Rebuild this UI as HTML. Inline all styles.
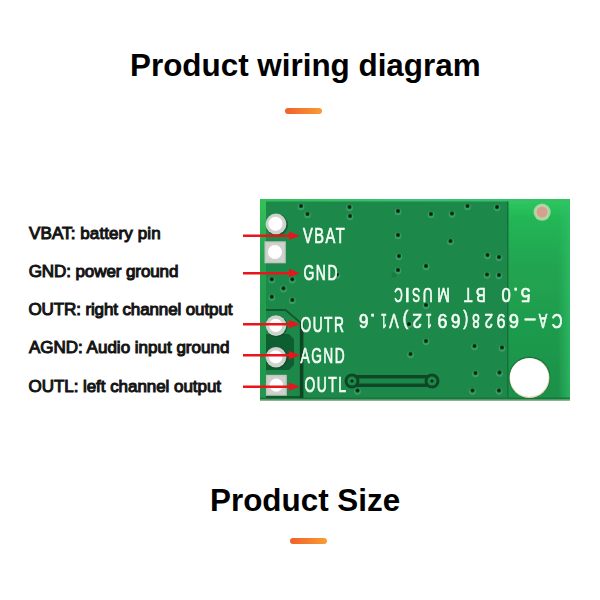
<!DOCTYPE html>
<html>
<head>
<meta charset="utf-8">
<style>
html,body{margin:0;padding:0;background:#fff;}
body{width:600px;height:600px;position:relative;overflow:hidden;font-family:"Liberation Sans",sans-serif;}
.t{position:absolute;white-space:nowrap;line-height:1;}
.title{font-size:31.4px;font-weight:bold;color:#000;}
.lab{font-size:17px;color:#141414;-webkit-text-stroke:1.05px #141414;}
.bar{position:absolute;height:6px;border-radius:3px;background:linear-gradient(90deg,#f1602a,#f89c36);}
svg{position:absolute;left:0;top:0;}
</style>
</head>
<body>
<div class="t title" style="left:130px;top:50px;">Product wiring diagram</div>
<div class="bar" style="left:285px;top:108px;width:37px;"></div>

<div class="t lab" style="left:29px;top:224.6px;letter-spacing:0.1px;">VBAT: battery pin</div>
<div class="t lab" style="left:28.7px;top:262.5px;letter-spacing:-0.09px;">GND: power ground</div>
<div class="t lab" style="left:28.5px;top:301.1px;letter-spacing:-0.12px;">OUTR: right channel output</div>
<div class="t lab" style="left:29px;top:339.4px;">AGND: Audio input ground</div>
<div class="t lab" style="left:28.5px;top:377.6px;letter-spacing:-0.05px;">OUTL: left channel output</div>

<svg width="600" height="600" viewBox="0 0 600 600">
  <defs>
    <linearGradient id="bright" x1="0" y1="0" x2="0" y2="1">
      <stop offset="0" stop-color="#48cc84"/>
      <stop offset="0.02" stop-color="#2cc45e"/>
      <stop offset="0.1" stop-color="#22b655"/>
      <stop offset="0.3" stop-color="#21a651"/>
      <stop offset="0.6" stop-color="#1f9c4d"/>
      <stop offset="1" stop-color="#1c9049"/>
    </linearGradient>
    <linearGradient id="lband" x1="0" y1="0" x2="0" y2="1">
      <stop offset="0" stop-color="#34c058"/>
      <stop offset="0.3" stop-color="#25a050"/>
      <stop offset="1" stop-color="#22964d"/>
    </linearGradient>
    <linearGradient id="tband" x1="0" y1="0" x2="1" y2="0">
      <stop offset="0" stop-color="#30c057"/>
      <stop offset="0.5" stop-color="#3cbf76"/>
      <stop offset="1" stop-color="#30c060"/>
    </linearGradient>
    <linearGradient id="redge" x1="0" y1="0" x2="1" y2="0">
      <stop offset="0" stop-color="#30c068" stop-opacity="0"/>
      <stop offset="1" stop-color="#30c068" stop-opacity="0.7"/>
    </linearGradient>
    <filter id="soft" x="-2%" y="-2%" width="104%" height="104%"><feGaussianBlur stdDeviation="0.45"/></filter>
  </defs>
  <g filter="url(#soft)">
  <!-- board -->
  <rect x="260" y="199" width="310" height="202" fill="url(#bright)"/>
  <rect x="558" y="199" width="12" height="202" fill="url(#redge)"/>
  <rect x="260" y="199" width="310" height="3" fill="url(#tband)"/>
  <rect x="260" y="202" width="6" height="199" fill="url(#lband)"/>
  <rect x="266" y="201.5" width="242" height="197" fill="#1f884a"/>
  <rect x="260" y="397.5" width="310" height="2" fill="#17703b" opacity="0.8"/>
  <rect x="260" y="399.5" width="310" height="1.5" fill="#a8bca0" opacity="0.8"/>
  <rect x="507" y="201.5" width="1.5" height="197" fill="#17703b"/>
  <!-- pad copper region -->
  <path d="M266,310 L285.5,310 L301.5,323.5 L301.5,397 L266,397" fill="#1f884a" stroke="#0f5a2c" stroke-width="1.8"/>
  <path d="M266,334 L289,334 L294,339 L294,365 L289,370 L266,370 Z" fill="#105e30"/>
  <rect x="299.8" y="323" width="3.6" height="75" fill="#0b4624"/>
  <!-- copper dot top right -->
  <circle cx="542.1" cy="212.1" r="8.6" fill="#9ad8a0"/>
  <circle cx="542.1" cy="212.1" r="7" fill="#c8d0a8"/>
  <circle cx="542.1" cy="212.1" r="5.6" fill="#d2a28e"/>
  <!-- hole -->
  <circle cx="529.5" cy="377.5" r="21" fill="#156e38" opacity="0.7"/>
  <circle cx="529.5" cy="378" r="20" fill="#e2d4ae"/>
  <circle cx="529.3" cy="377.5" r="19.3" fill="#ffffff"/>
  <!-- trace -->
  <path d="M352,381 L432,381" stroke="#0d4726" stroke-width="12" stroke-linecap="round" fill="none"/>
  <path d="M352,381 L432,381" stroke="#1f884a" stroke-width="5" stroke-linecap="round" fill="none"/>
  <circle cx="352" cy="381" r="7.5" fill="#0d4726"/>
  <circle cx="432" cy="381" r="7.5" fill="#0d4726"/>
  <circle cx="352" cy="381" r="4.5" fill="#1f884a"/>
  <circle cx="432" cy="381" r="4.5" fill="#1f884a"/>
  <circle cx="352" cy="381" r="1.6" fill="#0a2a14"/>
  <circle cx="432" cy="381" r="1.6" fill="#0a2a14"/>
  <!-- vias -->
  <g>
    <circle cx="301" cy="206.8" r="3.4" fill="#4fb27a" opacity="0.55"/><circle cx="301" cy="206" r="2.2" fill="#12502a"/><circle cx="301" cy="206" r="1.3" fill="#071f10"/>
    <circle cx="307.5" cy="214.8" r="3.4" fill="#4fb27a" opacity="0.55"/><circle cx="307.5" cy="214" r="2.2" fill="#12502a"/><circle cx="307.5" cy="214" r="1.3" fill="#071f10"/>
    <circle cx="349.5" cy="207.8" r="3.4" fill="#4fb27a" opacity="0.55"/><circle cx="349.5" cy="207" r="2.2" fill="#12502a"/><circle cx="349.5" cy="207" r="1.3" fill="#071f10"/>
    <circle cx="350" cy="216.8" r="3.4" fill="#4fb27a" opacity="0.55"/><circle cx="350" cy="216" r="2.2" fill="#12502a"/><circle cx="350" cy="216" r="1.3" fill="#071f10"/>
    <circle cx="398" cy="211.8" r="3.4" fill="#4fb27a" opacity="0.55"/><circle cx="398" cy="211" r="2.2" fill="#12502a"/><circle cx="398" cy="211" r="1.3" fill="#071f10"/>
    <circle cx="398" cy="235.8" r="3.4" fill="#4fb27a" opacity="0.55"/><circle cx="398" cy="235" r="2.2" fill="#12502a"/><circle cx="398" cy="235" r="1.3" fill="#071f10"/>
    <circle cx="399" cy="256.8" r="3.4" fill="#4fb27a" opacity="0.55"/><circle cx="399" cy="256" r="2.2" fill="#12502a"/><circle cx="399" cy="256" r="1.3" fill="#071f10"/>
    <circle cx="398" cy="270.8" r="3.4" fill="#4fb27a" opacity="0.55"/><circle cx="398" cy="270" r="2.2" fill="#12502a"/><circle cx="398" cy="270" r="1.3" fill="#071f10"/>
    <circle cx="337" cy="275.3" r="3.4" fill="#4fb27a" opacity="0.55"/><circle cx="337" cy="274.5" r="2.2" fill="#12502a"/><circle cx="337" cy="274.5" r="1.3" fill="#071f10"/>
    <circle cx="271.8" cy="280.1" r="3.4" fill="#4fb27a" opacity="0.55"/><circle cx="271.8" cy="279.3" r="2.2" fill="#12502a"/><circle cx="271.8" cy="279.3" r="1.3" fill="#071f10"/>
    <circle cx="292.3" cy="280.1" r="3.4" fill="#4fb27a" opacity="0.55"/><circle cx="292.3" cy="279.3" r="2.2" fill="#12502a"/><circle cx="292.3" cy="279.3" r="1.3" fill="#071f10"/>
    <circle cx="283.5" cy="289.0" r="3.4" fill="#4fb27a" opacity="0.55"/><circle cx="283.5" cy="288.2" r="2.2" fill="#12502a"/><circle cx="283.5" cy="288.2" r="1.3" fill="#071f10"/>
    <circle cx="271.8" cy="297.6" r="3.4" fill="#4fb27a" opacity="0.55"/><circle cx="271.8" cy="296.8" r="2.2" fill="#12502a"/><circle cx="271.8" cy="296.8" r="1.3" fill="#071f10"/>
    <circle cx="292.3" cy="300.7" r="3.4" fill="#4fb27a" opacity="0.55"/><circle cx="292.3" cy="299.9" r="2.2" fill="#12502a"/><circle cx="292.3" cy="299.9" r="1.3" fill="#071f10"/>
    <circle cx="431" cy="214.8" r="3.4" fill="#4fb27a" opacity="0.55"/><circle cx="431" cy="214" r="2.2" fill="#12502a"/><circle cx="431" cy="214" r="1.3" fill="#071f10"/>
    <circle cx="452" cy="214.3" r="3.4" fill="#4fb27a" opacity="0.55"/><circle cx="452" cy="213.5" r="2.2" fill="#12502a"/><circle cx="452" cy="213.5" r="1.3" fill="#071f10"/>
    <circle cx="499" cy="257.8" r="3.4" fill="#4fb27a" opacity="0.55"/><circle cx="499" cy="257" r="2.2" fill="#12502a"/><circle cx="499" cy="257" r="1.3" fill="#071f10"/>
    <circle cx="467.5" cy="206.8" r="3.4" fill="#4fb27a" opacity="0.55"/><circle cx="467.5" cy="206" r="2.2" fill="#12502a"/><circle cx="467.5" cy="206" r="1.3" fill="#071f10"/>
    <circle cx="497" cy="207.8" r="3.4" fill="#4fb27a" opacity="0.55"/><circle cx="497" cy="207" r="2.2" fill="#12502a"/><circle cx="497" cy="207" r="1.3" fill="#071f10"/>
    <circle cx="450.5" cy="241.8" r="3.4" fill="#4fb27a" opacity="0.55"/><circle cx="450.5" cy="241" r="2.2" fill="#12502a"/><circle cx="450.5" cy="241" r="1.3" fill="#071f10"/>
    <circle cx="487.5" cy="255.8" r="3.4" fill="#4fb27a" opacity="0.55"/><circle cx="487.5" cy="255" r="2.2" fill="#12502a"/><circle cx="487.5" cy="255" r="1.3" fill="#071f10"/>
    <circle cx="426" cy="266.8" r="3.4" fill="#4fb27a" opacity="0.55"/><circle cx="426" cy="266" r="2.2" fill="#12502a"/><circle cx="426" cy="266" r="1.3" fill="#071f10"/>
    <circle cx="487" cy="275.3" r="3.4" fill="#4fb27a" opacity="0.55"/><circle cx="487" cy="274.5" r="2.2" fill="#12502a"/><circle cx="487" cy="274.5" r="1.3" fill="#071f10"/>
    <circle cx="499" cy="275.8" r="3.4" fill="#4fb27a" opacity="0.55"/><circle cx="499" cy="275" r="2.2" fill="#12502a"/><circle cx="499" cy="275" r="1.3" fill="#071f10"/>
    <circle cx="426" cy="341.8" r="3.4" fill="#4fb27a" opacity="0.55"/><circle cx="426" cy="341" r="2.2" fill="#12502a"/><circle cx="426" cy="341" r="1.3" fill="#071f10"/>
    <circle cx="410.5" cy="354.8" r="3.4" fill="#4fb27a" opacity="0.55"/><circle cx="410.5" cy="354" r="2.2" fill="#12502a"/><circle cx="410.5" cy="354" r="1.3" fill="#071f10"/>
    <circle cx="474.5" cy="346.8" r="3.4" fill="#4fb27a" opacity="0.55"/><circle cx="474.5" cy="346" r="2.2" fill="#12502a"/><circle cx="474.5" cy="346" r="1.3" fill="#071f10"/>
    <circle cx="475.5" cy="373.8" r="3.4" fill="#4fb27a" opacity="0.55"/><circle cx="475.5" cy="373" r="2.2" fill="#12502a"/><circle cx="475.5" cy="373" r="1.3" fill="#071f10"/>
    <circle cx="499.5" cy="373.3" r="3.4" fill="#4fb27a" opacity="0.55"/><circle cx="499.5" cy="372.5" r="2.2" fill="#12502a"/><circle cx="499.5" cy="372.5" r="1.3" fill="#071f10"/>
    <circle cx="472.5" cy="391.3" r="3.4" fill="#4fb27a" opacity="0.55"/><circle cx="472.5" cy="390.5" r="2.2" fill="#12502a"/><circle cx="472.5" cy="390.5" r="1.3" fill="#071f10"/>
    <circle cx="499" cy="391.3" r="3.4" fill="#4fb27a" opacity="0.55"/><circle cx="499" cy="390.5" r="2.2" fill="#12502a"/><circle cx="499" cy="390.5" r="1.3" fill="#071f10"/>
    <circle cx="502" cy="348.3" r="3.4" fill="#4fb27a" opacity="0.55"/><circle cx="502" cy="347.5" r="2.2" fill="#12502a"/><circle cx="502" cy="347.5" r="1.3" fill="#071f10"/>
    <circle cx="426" cy="305.8" r="3.4" fill="#4fb27a" opacity="0.55"/><circle cx="426" cy="305" r="2.2" fill="#12502a"/><circle cx="426" cy="305" r="1.3" fill="#071f10"/>
    <circle cx="409" cy="324.8" r="3.4" fill="#4fb27a" opacity="0.55"/><circle cx="409" cy="324" r="2.2" fill="#12502a"/><circle cx="409" cy="324" r="1.3" fill="#071f10"/>
    <circle cx="357.5" cy="391.3" r="3.4" fill="#4fb27a" opacity="0.55"/><circle cx="357.5" cy="390.5" r="2.2" fill="#12502a"/><circle cx="357.5" cy="390.5" r="1.3" fill="#071f10"/>
    <circle cx="394" cy="275" r="2.6" fill="#1a7a42"/>
  </g>
  <!-- pads -->
  <g>
    <circle cx="277" cy="225" r="11" fill="#0c3f20" opacity="0.55"/>
    <circle cx="276" cy="224" r="10.4" fill="#cfd3cd"/>
    <circle cx="275.5" cy="223.8" r="7" fill="#fff"/>
    <rect x="264.5" y="241.3" width="21.3" height="22" fill="#c4c6c2"/>
    <rect x="266" y="242.8" width="18.3" height="19" fill="#d0d0cc"/>
    <circle cx="274.9" cy="252" r="7" fill="#fff"/>
    <circle cx="276.8" cy="326.3" r="10.8" fill="#0c3f20" opacity="0.5"/>
    <circle cx="276" cy="325.6" r="10.3" fill="#cfd3cd"/>
    <circle cx="275.7" cy="325.3" r="6.6" fill="#fff"/>
    <circle cx="276.8" cy="357.8" r="10.8" fill="#0c3f20" opacity="0.5"/>
    <circle cx="276" cy="357.2" r="10.3" fill="#cfd3cd"/>
    <circle cx="275.7" cy="356.9" r="6.6" fill="#fff"/>
    <rect x="266" y="374.8" width="20.8" height="20.9" fill="#c4c6c2"/>
    <rect x="267.5" y="376.3" width="17.8" height="17.9" fill="#d0d0cc"/>
    <circle cx="276.3" cy="385.2" r="6.6" fill="#fff"/>
  </g>
  <!-- silkscreen -->
  <g fill="#f4fff6" stroke="#f4fff6" stroke-width="0.7" font-family="Liberation Sans" font-size="21.5" letter-spacing="2.3">
    <text x="0" y="0" transform="translate(303,243) scale(0.68,1)">VBAT</text>
    <text x="0" y="0" transform="translate(303.5,280) scale(0.65,1)">GND</text>
    <text x="0" y="0" transform="translate(300.5,332) scale(0.64,1)">OUTR</text>
    <text x="0" y="0" transform="translate(300.5,363) scale(0.64,1)">AGND</text>
    <text x="0" y="0" transform="translate(304.5,392) scale(0.647,1)">OUTL</text>
  </g>
  <g fill="#f4fff6" stroke="#f4fff6" font-family="Liberation Sans"><g font-size="19.8" stroke-width="0.65"><text x="0" y="0" text-anchor="middle" transform="translate(525.5,288.2) rotate(180) scale(0.893,1)">5</text><text x="0" y="0" text-anchor="middle" transform="translate(515.75,288.2) rotate(180) scale(1.000,1)">.</text><text x="0" y="0" text-anchor="middle" transform="translate(506.1,288.2) rotate(180) scale(0.840,1)">0</text><text x="0" y="0" text-anchor="middle" transform="translate(480.75,288.2) rotate(180) scale(0.746,1)">B</text><text x="0" y="0" text-anchor="middle" transform="translate(468.25,288.2) rotate(180) scale(0.706,1)">T</text><text x="0" y="0" text-anchor="middle" transform="translate(443.5,288.2) rotate(180) scale(0.784,1)">M</text><text x="0" y="0" text-anchor="middle" transform="translate(427.75,288.2) rotate(180) scale(0.700,1)">U</text><text x="0" y="0" text-anchor="middle" transform="translate(416.25,288.2) rotate(180) scale(0.606,1)">S</text><text x="0" y="0" text-anchor="middle" transform="translate(407.25,288.2) rotate(180) scale(1.000,1)">I</text><text x="0" y="0" text-anchor="middle" transform="translate(398.5,288.2) rotate(180) scale(0.593,1)">C</text></g><g font-size="20.3" stroke-width="0.65"><text x="0" y="0" text-anchor="middle" transform="translate(557,313.8) rotate(180) scale(0.735,1)">C</text><text x="0" y="0" text-anchor="middle" transform="translate(543,313.8) rotate(180) scale(0.627,1)">A</text><text x="0" y="0" text-anchor="middle" transform="translate(530,313.8) rotate(180) scale(0.923,1)">–</text><text x="0" y="0" text-anchor="middle" transform="translate(514,313.8) rotate(180) scale(0.900,1)">6</text><text x="0" y="0" text-anchor="middle" transform="translate(501,313.8) rotate(180) scale(0.784,1)">9</text><text x="0" y="0" text-anchor="middle" transform="translate(488.75,313.8) rotate(180) scale(0.747,1)">2</text><text x="0" y="0" text-anchor="middle" transform="translate(476,313.8) rotate(180) scale(0.671,1)">8</text><text x="0" y="0" text-anchor="middle" transform="translate(465.75,313.8) rotate(180) scale(0.725,1)">(</text><text x="0" y="0" text-anchor="middle" transform="translate(455.75,313.8) rotate(180) scale(0.846,1)">6</text><text x="0" y="0" text-anchor="middle" transform="translate(442.5,313.8) rotate(180) scale(0.890,1)">9</text><text x="0" y="0" text-anchor="middle" transform="translate(429,313.8) rotate(180) scale(0.504,1)">1</text><text x="0" y="0" text-anchor="middle" transform="translate(417.25,313.8) rotate(180) scale(0.855,1)">2</text><text x="0" y="0" text-anchor="middle" transform="translate(405.5,313.8) rotate(180) scale(0.834,1)">)</text><text x="0" y="0" text-anchor="middle" transform="translate(394,313.8) rotate(180) scale(0.707,1)">V</text><text x="0" y="0" text-anchor="middle" transform="translate(384,313.8) rotate(180) scale(0.504,1)">1</text><text x="0" y="0" text-anchor="middle" transform="translate(372.75,313.8) rotate(180) scale(1.000,1)">.</text><text x="0" y="0" text-anchor="middle" transform="translate(363.75,313.8) rotate(180) scale(0.846,1)">6</text></g></g>
  </g>
  <!-- arrows -->
  <g fill="#e8141c" filter="url(#soft)">
    <rect x="243" y="234.5" width="48" height="2.5"/>
    <polygon points="289,231.5 300,235.7 289,239.8"/>
    <rect x="243" y="272" width="48" height="2.5"/>
    <polygon points="289,269 300,273.2 289,277.3"/>
    <rect x="243" y="323" width="48" height="2.5"/>
    <polygon points="289,320 300,324.2 289,328.3"/>
    <rect x="243" y="354" width="48" height="2.5"/>
    <polygon points="289,351 300,355.2 289,359.3"/>
    <rect x="243" y="385.5" width="48" height="2.5"/>
    <polygon points="289,382.5 300,386.7 289,390.8"/>
  </g>
</svg>

<div class="t title" style="left:210px;top:485px;">Product Size</div>
<div class="bar" style="left:290px;top:538px;width:37px;"></div>
</body>
</html>
